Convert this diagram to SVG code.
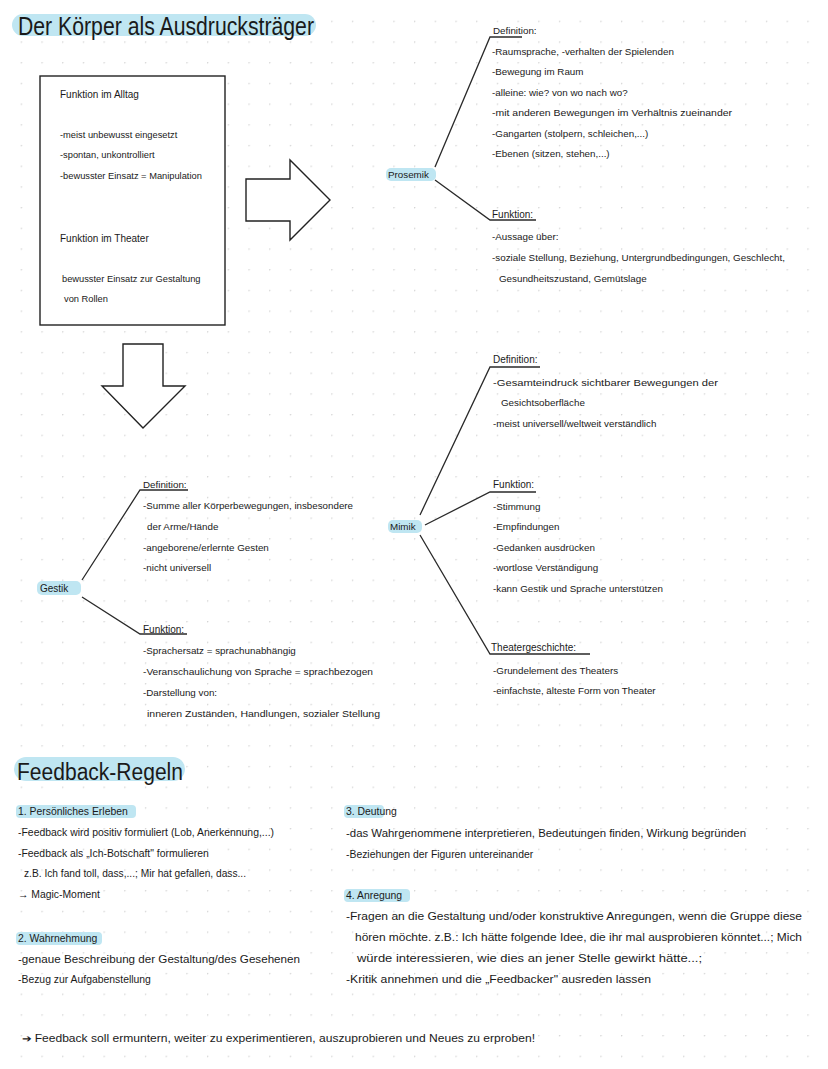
<svg xmlns="http://www.w3.org/2000/svg" width="828" height="1069" viewBox="0 0 828 1069">
<defs>
<pattern id="dots" x="0" y="0" width="20.7" height="20.7" patternUnits="userSpaceOnUse">
<circle cx="0.5" cy="0.5" r="0.9" fill="#d4d4d4"/>
</pattern>
<style>
text{font-family:"Liberation Sans",Arial,sans-serif;fill:#1a1a1a}
.t{font-size:10px}
.s{font-size:9.8px}
.b{font-size:9.3px}
.f{font-size:10.4px}
.hl{fill:#bfe6f2}
.ln{stroke:#2a2a2a;stroke-width:1.3;fill:none}
.shape{stroke:#222;stroke-width:1.4;fill:#fff}
</style>
</defs>
<rect width="828" height="1069" fill="#fff"/>
<rect x="10" y="10" width="810" height="1050" fill="url(#dots)"/>
<g id="title">
<rect class="hl" x="12" y="14" width="304" height="22" rx="11"/>
<text x="18" y="35" style="font-size:25px" textLength="296" lengthAdjust="spacingAndGlyphs">Der Körper als Ausdrucksträger</text>
</g>
<g id="box">
<rect class="shape" x="40" y="76" width="185" height="249"/>
<text class="t" x="60" y="98">Funktion im Alltag</text>
<text class="b" x="60" y="138">-meist unbewusst eingesetzt</text>
<text class="b" x="60" y="158">-spontan, unkontrolliert</text>
<text class="b" x="60" y="179">-bewusster Einsatz = Manipulation</text>
<text class="t" x="60" y="242">Funktion im Theater</text>
<text class="b" x="62" y="282">bewusster Einsatz zur Gestaltung</text>
<text class="b" x="64" y="302">von Rollen</text>
</g>
<g id="arrow-right"><polygon class="shape" points="246,179 290,179 290,160 330,200 290,240 290,221 246,221"/></g>
<g id="arrow-down"><polygon class="shape" points="123,344 163,344 163,386 185,386 143,428 102,386 123,386"/></g>
<g id="connectors">
<polyline class="ln" points="435,167 490,37 522,37"/>
<polyline class="ln" points="435,180 490,220 536,220"/>
<polyline class="ln" points="420,515 490,367 540,367"/>
<polyline class="ln" points="425,525 490,492 536,492"/>
<polyline class="ln" points="420,535 490,654 590,654"/>
<polyline class="ln" points="82,580 140,490 188,490"/>
<polyline class="ln" points="82,597 140,634 187,634"/>
</g>
<g id="prosemik">
<rect class="hl" x="386" y="168" width="50" height="13" rx="5"/>
<text class="s" x="388" y="178">Prosemik</text>
<text class="s" x="493" y="34">Definition:</text>
<text class="s" x="492" y="55">-Raumsprache, -verhalten der Spielenden</text>
<text class="s" x="492" y="75">-Bewegung im Raum</text>
<text class="s" x="492" y="96">-alleine: wie? von wo nach wo?</text>
<text class="s" x="492" y="116" textLength="240" lengthAdjust="spacingAndGlyphs">-mit anderen Bewegungen im Verhältnis zueinander</text>
<text class="s" x="492" y="137">-Gangarten (stolpern, schleichen,...)</text>
<text class="s" x="492" y="157">-Ebenen (sitzen, stehen,...)</text>
<text class="t" x="492" y="218">Funktion:</text>
<text class="s" x="492" y="240">-Aussage über:</text>
<text class="s" x="492" y="261" textLength="293" lengthAdjust="spacingAndGlyphs">-soziale Stellung, Beziehung, Untergrundbedingungen, Geschlecht,</text>
<text class="s" x="499" y="282">Gesundheitszustand, Gemütslage</text>
</g>
<g id="mimik">
<rect class="hl" x="388" y="520" width="34" height="13" rx="5"/>
<text class="s" x="390" y="530">Mimik</text>
<text class="t" x="493" y="363">Definition:</text>
<text class="s" x="493" y="386" textLength="225" lengthAdjust="spacingAndGlyphs">-Gesamteindruck sichtbarer Bewegungen der</text>
<text class="s" x="501" y="406">Gesichtsoberfläche</text>
<text class="s" x="493" y="427">-meist universell/weltweit verständlich</text>
<text class="t" x="493" y="488">Funktion:</text>
<text class="s" x="493" y="510">-Stimmung</text>
<text class="s" x="493" y="530">-Empfindungen</text>
<text class="s" x="493" y="551">-Gedanken ausdrücken</text>
<text class="s" x="493" y="571">-wortlose Verständigung</text>
<text class="s" x="493" y="592">-kann Gestik und Sprache unterstützen</text>
<text class="t" x="491" y="651">Theatergeschichte:</text>
<text class="s" x="493" y="674">-Grundelement des Theaters</text>
<text class="s" x="493" y="694">-einfachste, älteste Form von Theater</text>
</g>
<g id="gestik">
<rect class="hl" x="37" y="581" width="44" height="14" rx="5"/>
<text class="t" x="40" y="592">Gestik</text>
<text class="s" x="143" y="488">Definition:</text>
<text class="s" x="143" y="509" textLength="210" lengthAdjust="spacingAndGlyphs">-Summe aller Körperbewegungen, insbesondere</text>
<text class="s" x="147" y="530">der Arme/Hände</text>
<text class="s" x="143" y="551">-angeborene/erlernte Gesten</text>
<text class="s" x="143" y="571">-nicht universell</text>
<text class="t" x="143" y="633">Funktion:</text>
<text class="s" x="143" y="654">-Sprachersatz = sprachunabhängig</text>
<text class="s" x="143" y="675" textLength="230" lengthAdjust="spacingAndGlyphs">-Veranschaulichung von Sprache = sprachbezogen</text>
<text class="s" x="143" y="696">-Darstellung von:</text>
<text class="s" x="147" y="717" textLength="233" lengthAdjust="spacingAndGlyphs">inneren Zuständen, Handlungen, sozialer Stellung</text>
</g>
<g id="feedback-title">
<rect class="hl" x="14" y="757" width="171" height="24" rx="12"/>
<text x="17" y="780" style="font-size:23px" textLength="166" lengthAdjust="spacingAndGlyphs">Feedback-Regeln</text>
</g>
<g id="fb1">
<rect class="hl" x="16" y="805" width="120" height="13" rx="4"/>
<text class="f" x="18" y="815">1. Persönliches Erleben</text>
<text class="f" x="18" y="836" textLength="256" lengthAdjust="spacingAndGlyphs">-Feedback wird positiv formuliert (Lob, Anerkennung,...)</text>
<text class="f" x="18" y="857">-Feedback als „Ich-Botschaft" formulieren</text>
<text class="f" x="24" y="877" textLength="222" lengthAdjust="spacingAndGlyphs">z.B. Ich fand toll, dass,...; Mir hat gefallen, dass...</text>
<text class="f" x="18" y="898">→ Magic-Moment</text>
</g>
<g id="fb2">
<rect class="hl" x="16" y="932" width="86" height="13" rx="4"/>
<text class="f" x="18" y="942">2. Wahrnehmung</text>
<text class="f" x="18" y="963" textLength="282" lengthAdjust="spacingAndGlyphs">-genaue Beschreibung der Gestaltung/des Gesehenen</text>
<text class="f" x="18" y="983">-Bezug zur Aufgabenstellung</text>
</g>
<g id="fb3">
<rect class="hl" x="344" y="805" width="40" height="13" rx="4"/>
<text class="f" x="346" y="815">3. Deutung</text>
<text class="f" x="346" y="837" textLength="400" lengthAdjust="spacingAndGlyphs">-das Wahrgenommene interpretieren, Bedeutungen finden, Wirkung begründen</text>
<text class="f" x="346" y="858">-Beziehungen der Figuren untereinander</text>
</g>
<g id="fb4">
<rect class="hl" x="344" y="889" width="66" height="13" rx="4"/>
<text class="f" x="346" y="899">4. Anregung</text>
<text class="f" x="346" y="920" textLength="456" lengthAdjust="spacingAndGlyphs">-Fragen an die Gestaltung und/oder konstruktive Anregungen, wenn die Gruppe diese</text>
<text class="f" x="355" y="941" textLength="447" lengthAdjust="spacingAndGlyphs">hören möchte. z.B.: Ich hätte folgende Idee, die ihr mal ausprobieren könntet...; Mich</text>
<text class="f" x="357" y="962" textLength="345" lengthAdjust="spacingAndGlyphs">würde interessieren, wie dies an jener Stelle gewirkt hätte...;</text>
<text class="f" x="346" y="983" textLength="305" lengthAdjust="spacingAndGlyphs">-Kritik annehmen und die „Feedbacker" ausreden lassen</text>
</g>
<g id="conclusion">
<text class="f" x="22" y="1042" textLength="513" lengthAdjust="spacingAndGlyphs">➔ Feedback soll ermuntern, weiter zu experimentieren, auszuprobieren und Neues zu erproben!</text>
</g>
</svg>
